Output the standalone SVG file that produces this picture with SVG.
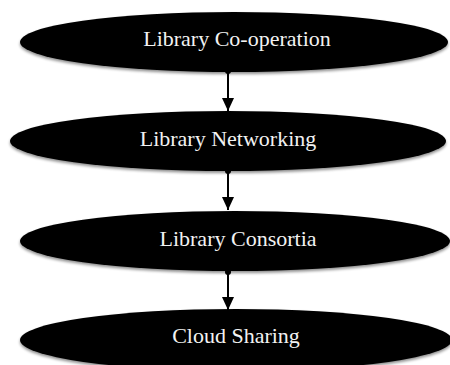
<svg xmlns="http://www.w3.org/2000/svg" width="450" height="365" viewBox="0 0 450 365">
  <style>
    .node ellipse { fill: #000; filter: url(#soft); }
    .node text { fill: #f2f2f2; font-family: "Liberation Serif", "Times New Roman", serif; font-size: 22px; text-anchor: middle; }
    .edge { stroke: #000; stroke-width: 2; fill: none; marker-end: url(#arrow); }
    .knob { fill: #000; }
  </style>
  <defs>
    <filter id="soft" x="-5%" y="-20%" width="110%" height="150%">
      <feGaussianBlur in="SourceAlpha" stdDeviation="1.6" result="b"/>
      <feOffset in="b" dx="0" dy="2" result="o"/>
      <feComponentTransfer in="o" result="s">
        <feFuncA type="linear" slope="0.45"/>
      </feComponentTransfer>
      <feMerge>
        <feMergeNode in="s"/>
        <feMergeNode in="SourceGraphic"/>
      </feMerge>
    </filter>
    <!-- filled triangle arrowhead, tip at the end of the line -->
    <marker id="arrow" markerWidth="13" markerHeight="12" refX="13" refY="6" orient="auto" markerUnits="userSpaceOnUse" viewBox="0 0 13 12">
      <path d="M0,0 L13,6 L0,12 Z" fill="#000"/>
    </marker>
  </defs>

  <!-- connectors -->
  <g id="connectors">
    <line class="edge" x1="228" y1="70" x2="228" y2="111"/>
    <circle class="knob" cx="228" cy="71" r="3"/>

    <line class="edge" x1="228" y1="170" x2="228" y2="210"/>
    <circle class="knob" cx="228" cy="171" r="3"/>

    <line class="edge" x1="228" y1="271" x2="228" y2="310"/>
    <circle class="knob" cx="228" cy="272" r="3"/>
  </g>

  <g id="node-cooperation" class="node">
    <ellipse cx="234" cy="42" rx="214" ry="30"/>
    <text x="237" y="46">Library Co-operation</text>
  </g>

  <g id="node-networking" class="node">
    <ellipse cx="228" cy="141" rx="218" ry="30"/>
    <text x="228" y="146">Library Networking</text>
  </g>

  <g id="node-consortia" class="node">
    <ellipse cx="235" cy="241" rx="215" ry="30"/>
    <text x="238" y="246">Library Consortia</text>
  </g>

  <g id="node-cloud" class="node">
    <ellipse cx="236" cy="340" rx="216" ry="31"/>
    <text x="236" y="343">Cloud Sharing</text>
  </g>
</svg>
